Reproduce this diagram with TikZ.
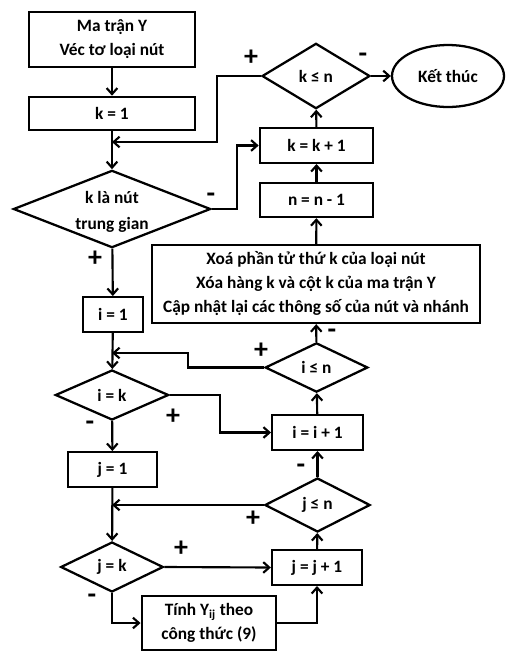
\documentclass[tikz,border=0pt]{standalone}
\usepackage{fontspec}
\setmainfont{Carlito}
\usetikzlibrary{shapes.geometric,arrows.meta}
\begin{document}
\begin{tikzpicture}[x=0.75pt,y=-0.75pt,
  every node/.style={font=\bfseries\fontsize{13}{18}\selectfont, inner sep=0pt},
  box/.style={draw, line width=1.7pt, rectangle, align=center},
  dia/.style={draw, line width=1.7pt, diamond, align=center},
  term/.style={draw, line width=1.7pt, ellipse},
  conn/.style={line width=1.6pt, -{Straight Barb[length=4.5pt,width=8pt]}},
  sgn/.style={font=\bfseries\fontsize{21}{21}\selectfont}]
\useasboundingbox (0,0) rectangle (507,651);
% left column
\node[box, minimum width=125pt, minimum height=41pt] (ma) at (112,39.5) {Ma trận Y\\Véc tơ loại nút};
\node[box, minimum width=125pt, minimum height=25pt] (k1) at (112,113.5) {k = 1};
\node[dia, minimum width=148pt, minimum height=58pt] (kd) at (112,209) {};
\node (kdt) at (112,212) [align=center] {k là nút\\[1pt]trung gian};
\node[box, minimum width=45pt, minimum height=26pt] (i1) at (113,314.5) {i = 1};
\node[dia, minimum width=85pt, minimum height=37.5pt] (ik) at (112,395) {i = k};
\node[box, minimum width=67pt, minimum height=26pt] (j1) at (112.5,469.5) {j = 1};
\node[dia, minimum width=77pt, minimum height=37.5pt] (jk) at (112,567) {j = k};
\node[box, minimum width=101pt, minimum height=41pt] (tinh) at (209,623) {Tính Y\textsubscript{ij} theo\\công thức (9)};
% right column
\node[dia, minimum width=81pt, minimum height=49pt] (kn) at (316,76) {k ≤ n};
\node[term, minimum width=84pt, minimum height=46.5pt] (end) at (448,76) {Kết thúc};
\node[box, minimum width=85pt, minimum height=26pt] (kk) at (316.5,145.5) {k = k + 1};
\node[box, minimum width=85pt, minimum height=25.5pt] (nn) at (316.5,200) {n = n - 1};
\node[box, minimum width=246pt, minimum height=58.5pt] (big) at (316,284) {Xoá phần tử thứ k của loại nút\\Xóa hàng k và cột k của ma trận Y\\Cập nhật lại các thông số của nút và nhánh};
\node[dia, minimum width=77pt, minimum height=37pt] (in) at (316.5,367.5) {i ≤ n};
\node[box, minimum width=68pt, minimum height=26pt] (ii) at (317.5,432.5) {i = i + 1};
\node[dia, minimum width=79pt, minimum height=40.5pt] (jn) at (317.5,505) {j ≤ n};
\node[box, minimum width=67.5pt, minimum height=26pt] (jj) at (317,567.5) {j = j + 1};
% junction coordinates
\coordinate (m1) at (112,142);
\coordinate (m2) at (112,353);
\coordinate (m3) at (112,505);
% main flow
\draw[conn] (ma) -- (k1);
\draw[conn] (k1) -- (kd);
\draw[conn] (kd) -- (i1);
\draw[conn] (i1) -- (ik);
\draw[conn] (ik) -- (j1);
\draw[conn] (j1) -- (jk);
\draw[conn] (jk.south) |- (tinh.west);
\draw[conn] (tinh.east) -| (jj.south);
\draw[conn] (jk.east) -- (jj.west);
\draw[conn] (jj) -- (jn);
\draw[conn] (jn) -- (ii);
\draw[conn] (ii) -- (in);
\draw[conn] (in) -- (big);
\draw[conn] (big) -- (nn);
\draw[conn] (nn) -- (kk);
\draw[conn] (kk) -- (kn);
\draw[conn] (kn.east) -- (end.west);
% loops
\draw[conn] (kn.west) -- (217,76) -- (217,142) -- (m1);
\draw[conn] (kd.east) -- (237,209) -- (237,145.5) -- (kk.west);
\draw[conn] (in.west) -- (188,367.5) -- (188,353) -- (m2);
\draw[conn] (ik.east) -- (220,395) -- (220,432.5) -- (ii.west);
\draw[conn] (jn.west) -- (m3);
% signs
\node[sgn] (s1) at (251,58) {+};
\node[sgn] (s2) at (363,58) {-};
\node[sgn] (s3) at (211,198) {-};
\node[sgn] (s4) at (95,259) {+};
\node[sgn] (s5) at (261,351) {+};
\node[sgn] (s6) at (332,334) {-};
\node[sgn] (s7) at (173,417) {+};
\node[sgn] (s8) at (90,426) {-};
\node[sgn] (s9) at (301,469) {-};
\node[sgn] (s10) at (253,519) {+};
\node[sgn] (s11) at (181,549) {+};
\node[sgn] (s12) at (92,599) {-};
\end{tikzpicture}
\end{document}
